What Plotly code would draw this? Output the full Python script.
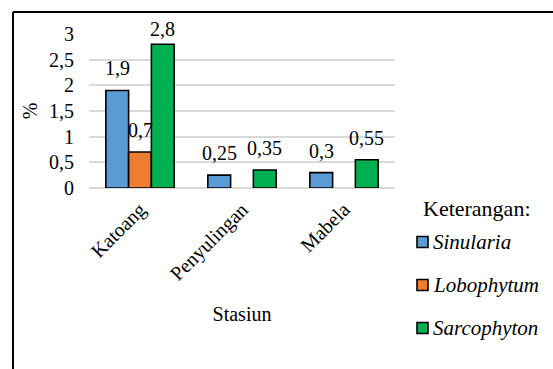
import plotly.graph_objects as go

# Data
stations = ["Katoang", "Penyulingan", "Mabela"]
sinularia = [1.9, 0.25, 0.3]
lobophytum = [0.7, None, None]
sarcophyton = [2.8, 0.35, 0.55]

series_names = ["Sinularia", "Lobophytum", "Sarcophyton"]
series_values = [sinularia, lobophytum, sarcophyton]
series_colors = ["#5B9BD5", "#ED7D31", "#00B050"]

y_ticks = [0, 0.5, 1, 1.5, 2, 2.5, 3]

FONT = "Liberation Serif, Times New Roman, serif"
FS = 20
W, H = 553, 369
M_L, M_R, M_T, M_B = 89, 158, 34, 181
Y_MAX = 3
plot_w = W - M_L - M_R
plot_h = H - M_T - M_B


def px_x(px):
    return (px - M_L) / plot_w


def px_y(py):
    return (H - M_B - py) / plot_h


fig = go.Figure()
for name, vals, color in zip(series_names, series_values, series_colors):
    fig.add_trace(go.Bar(
        x=stations, y=vals, name=name, showlegend=False,
        marker=dict(color=color, line=dict(color="black", width=1.6)),
    ))

# value labels above each bar, kept inside the chart area
px_per_unit = plot_h / Y_MAX
n = len(series_names)
slot = plot_w / len(stations) * (1 - 0.33) / n
for si, vals in enumerate(series_values):
    for ci, v in enumerate(vals):
        if v is None:
            continue
        shift = min(9, (Y_MAX - v) * px_per_unit - 8)
        fig.add_annotation(
            x=ci, y=v, xref="x", yref="y",
            xshift=(si - (n - 1) / 2) * slot,
            text=f"{v:g}".replace(".", ","), showarrow=False,
            yanchor="bottom", yshift=shift,
            font=dict(family=FONT, size=FS, color="black"),
        )

# legend: title, colour keys and italic species names
fig.add_annotation(
    x=px_x(421), y=px_y(209), xref="paper", yref="paper",
    xanchor="left", yanchor="middle", showarrow=False,
    text="Keterangan:", font=dict(family=FONT, size=22, color="black"),
)
for i, (name, color) in enumerate(zip(series_names, series_colors)):
    cy = 242 + i * 43
    fig.add_shape(
        type="rect", xref="paper", yref="paper",
        x0=px_x(417), x1=px_x(428), y0=px_y(cy - 5.5), y1=px_y(cy + 5.5),
        fillcolor=color, line=dict(color="black", width=1.6),
    )
    fig.add_annotation(
        x=px_x(431), y=px_y(cy), xref="paper", yref="paper",
        xanchor="left", yanchor="middle", showarrow=False,
        text=name,
        font=dict(family=FONT, size=21, color="black", style="italic"),
    )

# outer frame (left and top edges)
fig.add_shape(type="line", xref="paper", yref="paper",
              x0=px_x(13), x1=px_x(13), y0=px_y(12), y1=px_y(380),
              line=dict(color="black", width=2))
fig.add_shape(type="line", xref="paper", yref="paper",
              x0=px_x(13), x1=px_x(560), y0=px_y(12), y1=px_y(12),
              line=dict(color="black", width=2))

fig.update_layout(
    width=W, height=H,
    margin=dict(l=M_L, r=M_R, t=M_T, b=M_B, autoexpand=False),
    paper_bgcolor="white", plot_bgcolor="white",
    separators=",.",
    barmode="group", bargap=0.33, bargroupgap=0,
    font=dict(family=FONT, size=FS, color="black"),
    xaxis=dict(
        range=[-0.5, 2.5], tickangle=-45, showgrid=False, showline=False,
        ticks="", tickfont=dict(size=FS), ticklabelstandoff=5,
        title=dict(text="Stasiun", font=dict(size=FS), standoff=22),
    ),
    yaxis=dict(
        range=[0, Y_MAX], tickvals=y_ticks, showgrid=True,
        gridcolor="#D9D9D9", gridwidth=1.5, zeroline=True,
        zerolinecolor="#D9D9D9", zerolinewidth=1.5, showline=False,
        ticks="", tickfont=dict(size=FS), ticklabelstandoff=14,
        title=dict(text="%", font=dict(size=FS), standoff=6),
    ),
    showlegend=False,
)

fig.write_html("out.html")
